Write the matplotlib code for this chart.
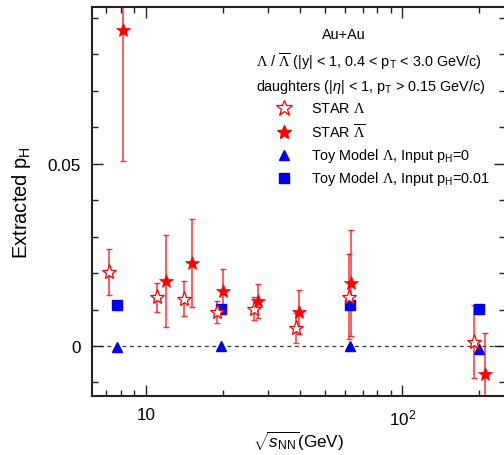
import matplotlib
matplotlib.use("Agg")
import matplotlib.pyplot as plt
from matplotlib.ticker import FixedLocator, FuncFormatter, LogLocator, MultipleLocator

plt.rcParams['font.family'] = ['Liberation Sans', 'DejaVu Sans']
plt.rcParams['mathtext.fontset'] = 'custom'
plt.rcParams['mathtext.rm'] = 'Liberation Sans'
plt.rcParams['mathtext.it'] = 'Liberation Sans:italic'
plt.rcParams['mathtext.sf'] = 'Liberation Serif'

# STAR Lambda (open stars)
lam_x = [7.2, 11.0, 14.1, 19.0, 26.5, 38.5, 62.1, 190]
lam_y = [0.0202, 0.0133, 0.0130, 0.0092, 0.0102, 0.0049, 0.0135, 0.0011]
lam_err = [0.0063, 0.0040, 0.0047, 0.0030, 0.0032, 0.0041, 0.0117, 0.0100]

# STAR anti-Lambda (filled stars)
alam_x = [8.15, 12.0, 15.1, 20.0, 27.4, 39.4, 62.9, 211]
alam_y = [0.0865, 0.0178, 0.0227, 0.0151, 0.0123, 0.0093, 0.0172, -0.0078]
alam_err = [0.0357, 0.0126, 0.0121, 0.0061, 0.0046, 0.0060, 0.0145, 0.0113]

# toy model
toy_x = [7.7, 19.6, 62.4, 200]
toy0_y = [-0.0004, 0.0, 0.0, -0.0009]
toy01_y = [0.0112, 0.0101, 0.0112, 0.0101]

fig = plt.figure(figsize=(5.04, 4.56), dpi=100)
ax = fig.add_axes([0.182, 0.1294, 1.002 - 0.182, 0.9825 - 0.1294])

ax.axhline(0, color='#333333', ls=(0, (3, 3)), lw=0.9, zorder=1)

ax.errorbar(lam_x, lam_y, yerr=lam_err, fmt='none', ecolor='red', elinewidth=1.1,
            capsize=2, capthick=1.0, alpha=0.8, zorder=2)
ax.errorbar(alam_x, alam_y, yerr=alam_err, fmt='none', ecolor='red', elinewidth=1.1,
            capsize=2, capthick=1.0, alpha=0.8, zorder=2)

ax.plot(lam_x, lam_y, ls='none', marker='*', ms=11, mfc='white', mec='red', mew=0.9, zorder=4)
ax.plot(alam_x, alam_y, ls='none', marker='*', ms=10, mfc='red', mec='red', mew=0.5, zorder=4)
ax.plot(toy_x, toy0_y, ls='none', marker='^', ms=6.5, mfc='#0000ee', mec='#0000ee', zorder=3)
ax.plot(toy_x, toy01_y, ls='none', marker='s', ms=6.5, mfc='#0000ee', mec='#0000ee', zorder=3)

ax.set_xscale('log')
ax.set_xlim(6.14, 251.6)
ax.set_ylim(-0.0137, 0.0929)

ax.xaxis.set_major_locator(FixedLocator([10, 100]))
ax.xaxis.set_major_formatter(FuncFormatter(lambda v, p: '10' if v == 10 else r'10$^2$'))
ax.xaxis.set_minor_locator(LogLocator(base=10, subs=range(2, 10), numticks=20))
ax.xaxis.set_minor_formatter(FuncFormatter(lambda v, p: ''))
ax.yaxis.set_major_locator(FixedLocator([0, 0.05]))
ax.yaxis.set_major_formatter(FuncFormatter(lambda v, p: '0' if v == 0 else '0.05'))
ax.yaxis.set_minor_locator(MultipleLocator(0.01))

ax.tick_params(which='both', direction='in', top=True, right=True, labelsize=12.3, width=1.0, color='#222222')
ax.tick_params(which='major', length=8, pad=8)
ax.tick_params(which='minor', length=4)
for s in ax.spines.values():
    s.set_linewidth(1.5)
    s.set_color('#222222')

ax.set_xlabel(r'$\sqrt{s_{\rm NN}}$(GeV)', fontsize=12.3, labelpad=1)
ax.set_ylabel(r'Extracted p$_{\rm H}$', fontsize=14.5, labelpad=10)

# legend block
fs = 10.4
ax.text(0.6104, 0.9306, 'Au+Au', transform=ax.transAxes, ha='center', va='center', fontsize=fs)
ax.text(0.398, 0.8625, r'$\mathsf{\Lambda}$ / $\overline{\mathsf{\Lambda}}$ (|y| < 1, 0.4 < p$_{\rm T}$ < 3.0 GeV/c)',
        transform=ax.transAxes, ha='left', va='center', fontsize=fs)
ax.text(0.398, 0.7977, r'daughters (|$\eta$| < 1, p$_{\rm T}$ > 0.15 GeV/c)',
        transform=ax.transAxes, ha='left', va='center', fontsize=fs)

mx, tx = 0.4653, 0.5306
ax.plot([mx], [0.7396], transform=ax.transAxes, marker='*', ms=12, mfc='white', mec='red', mew=0.9, clip_on=False)
ax.text(tx, 0.7396, r'STAR $\mathsf{\Lambda}$', transform=ax.transAxes, ha='left', va='center', fontsize=fs)
ax.plot([mx], [0.6794], transform=ax.transAxes, marker='*', ms=10, mfc='red', mec='red', clip_on=False)
ax.text(tx, 0.6794, r'STAR $\overline{\mathsf{\Lambda}}$', transform=ax.transAxes, ha='left', va='center', fontsize=fs)
ax.plot([mx], [0.6195], transform=ax.transAxes, marker='^', ms=6.5, mfc='#0000ee', mec='#0000ee', clip_on=False)
ax.text(tx, 0.6195, r'Toy Model $\mathsf{\Lambda}$, Input p$_{\rm H}$=0', transform=ax.transAxes, ha='left', va='center', fontsize=fs)
ax.plot([mx], [0.5596], transform=ax.transAxes, marker='s', ms=6.5, mfc='#0000ee', mec='#0000ee', clip_on=False)
ax.text(tx, 0.5596, r'Toy Model $\mathsf{\Lambda}$, Input p$_{\rm H}$=0.01', transform=ax.transAxes, ha='left', va='center', fontsize=fs)

fig.savefig('out.png', dpi=100)
